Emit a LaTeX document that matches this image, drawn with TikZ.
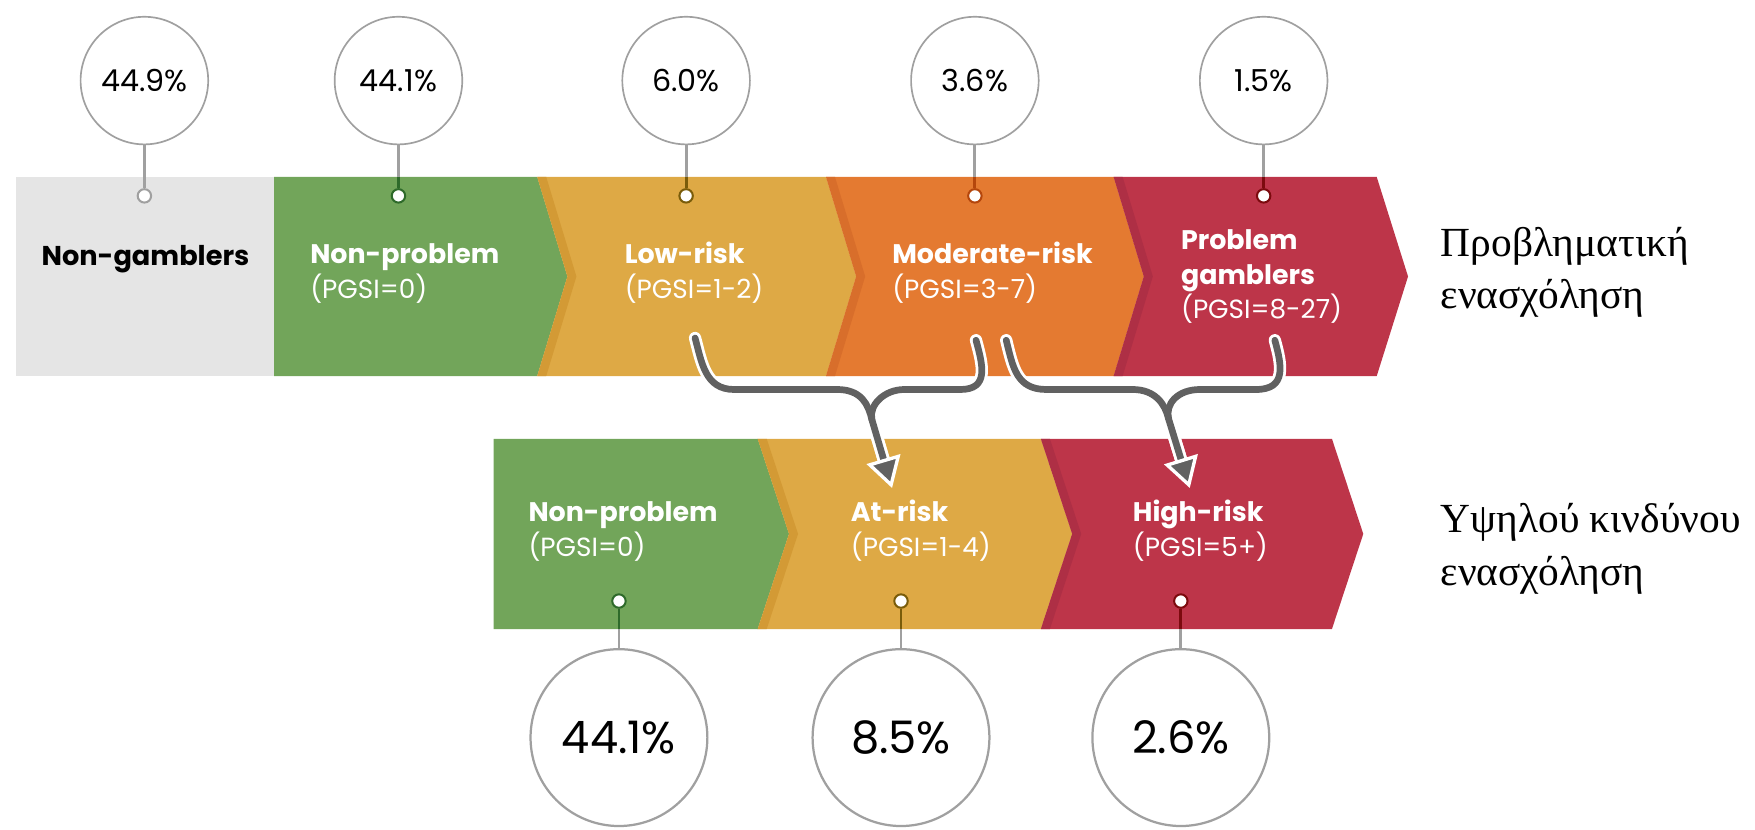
\documentclass[tikz,border=0pt]{standalone}
\usepackage{fontspec}
\setmainfont{Poppins}
\newfontfamily\greekfont{Liberation Serif}
\usetikzlibrary{arrows.meta}
\definecolor{cgray}{HTML}{E5E5E5}
\definecolor{cgreen}{HTML}{72A55A}
\definecolor{cyellow}{HTML}{DEA945}
\definecolor{cyellowd}{HTML}{D39A35}
\definecolor{corange}{HTML}{E47A31}
\definecolor{coranged}{HTML}{D86E2B}
\definecolor{cred}{HTML}{BD3549}
\definecolor{credd}{HTML}{AE2F45}
\definecolor{dgreen}{HTML}{2E6A2A}
\definecolor{dyellow}{HTML}{7A5C0A}
\definecolor{dorange}{HTML}{B4460C}
\definecolor{dred}{HTML}{7C0A0E}
\definecolor{ring}{HTML}{A0A0A0}
\definecolor{arrowgray}{HTML}{616161}
\begin{document}
\begin{tikzpicture}[x=1pt,y=-1pt,
  topring/.style={circle, draw=ring, line width=1.5pt, fill=white, minimum size=114pt, inner sep=0pt, font=\fontsize{27}{30}\selectfont},
  lowring/.style={circle, draw=ring, line width=2pt, fill=white, minimum size=158pt, inner sep=0pt, font=\fontsize{40}{44}\selectfont},
  pin/.style={circle, fill=white, line width=1.8pt, minimum size=12pt, inner sep=0pt},
  stem/.style={line width=2.5pt},
  title/.style={anchor=base west, inner sep=0pt, text=white, font=\bfseries\fontsize{24}{28}\selectfont},
  sub/.style={anchor=base west, inner sep=0pt, text=white, font=\fontsize{23.5}{28}\selectfont},
  greek/.style={anchor=base west, inner sep=0pt, font=\greekfont\fontsize{37}{40}\selectfont},
  flowunder/.style={white, line width=11pt, line cap=round, line join=round},
  flowline/.style={arrowgray, line width=6pt, line cap=round, line join=round},
  flowtip/.style={-{Triangle[length=27pt,width=31pt,fill=arrowgray,color=white,line width=3pt]}}
]
\useasboundingbox (0,0) rectangle (1568,741);

% ---------- top band ----------
\fill[cgray] (14,158) rectangle (245,336);
\fill[cgreen] (245,158) -- (480,158) -- (507,247) -- (480,336) -- (245,336) -- cycle;
\fill[cyellow] (480,158) -- (738,158) -- (765,247) -- (738,336) -- (480,336) -- (507,247) -- cycle;
\fill[cyellowd] (480,158) -- (488,158) -- (515,247) -- (488,336) -- (480,336) -- (507,247) -- cycle;
\fill[corange] (738,158) -- (995,158) -- (1022,247) -- (995,336) -- (738,336) -- (765,247) -- cycle;
\fill[coranged] (738,158) -- (746,158) -- (773,247) -- (746,336) -- (738,336) -- (765,247) -- cycle;
\fill[cred] (995,158) -- (1230,158) -- (1258,247) -- (1230,336) -- (995,336) -- (1022,247) -- cycle;
\fill[credd] (995,158) -- (1003,158) -- (1030,247) -- (1003,336) -- (995,336) -- (1022,247) -- cycle;

% ---------- lower band ----------
\fill[cgreen] (441,392) -- (677,392) -- (705,477) -- (677,562) -- (441,562) -- cycle;
\fill[cyellow] (677,392) -- (930,392) -- (958,477) -- (930,562) -- (677,562) -- (705,477) -- cycle;
\fill[cyellowd] (677,392) -- (685,392) -- (713,477) -- (685,562) -- (677,562) -- (705,477) -- cycle;
\fill[cred] (930,392) -- (1190,392) -- (1218,477) -- (1190,562) -- (930,562) -- (958,477) -- cycle;
\fill[credd] (930,392) -- (938,392) -- (966,477) -- (938,562) -- (930,562) -- (958,477) -- cycle;

% ---------- top percentage rings ----------
\node[topring] (t1) at (129,72) {44.9\%};
\node[topring] (t2) at (356,72) {44.1\%};
\node[topring] (t3) at (613,72) {6.0\%};
\node[topring] (t4) at (871,72) {3.6\%};
\node[topring] (t5) at (1129,72) {1.5\%};
\coordinate (e1) at (129,158);
\coordinate (e2) at (356,158);
\coordinate (e3) at (613,158);
\coordinate (e4) at (871,158);
\coordinate (e5) at (1129,158);
\node[pin, draw=ring] (p1) at (129,175) {};
\node[pin, draw=dgreen] (p2) at (356,175) {};
\node[pin, draw=dyellow] (p3) at (613,175) {};
\node[pin, draw=dorange] (p4) at (871,175) {};
\node[pin, draw=dred] (p5) at (1129,175) {};
\draw[stem, ring] (t1) -- (p1);
\draw[stem, ring] (t2) -- (e2);
\draw[stem, ring] (t3) -- (e3);
\draw[stem, ring] (t4) -- (e4);
\draw[stem, ring] (t5) -- (e5);
\draw[stem, dgreen] (e2) -- (p2);
\draw[stem, dyellow] (e3) -- (p3);
\draw[stem, dorange] (e4) -- (p4);
\draw[stem, dred] (e5) -- (p5);

% ---------- lower percentage rings ----------
\node[lowring] (r1) at (553,659) {44.1\%};
\node[lowring] (r2) at (805,659) {8.5\%};
\node[lowring] (r3) at (1055,659) {2.6\%};
\coordinate (f1) at (553,562);
\coordinate (f2) at (805,562);
\coordinate (f3) at (1055,562);
\node[pin, draw=dgreen] (q1) at (553,537) {};
\node[pin, draw=dyellow] (q2) at (805,537) {};
\node[pin, draw=dred] (q3) at (1055,537) {};
\draw[stem, ring] (r1) -- (f1);
\draw[stem, ring] (r2) -- (f2);
\draw[stem, ring] (r3) -- (f3);
\draw[stem, dgreen] (f1) -- (q1);
\draw[stem, dyellow] (f2) -- (q2);
\draw[stem, dred] (f3) -- (q3);

% ---------- labels ----------
\node[anchor=base west, inner sep=0pt, font=\bfseries\fontsize{24.3}{28}\selectfont] (ng) at (37,237) {Non-gamblers};
\node[title] (np1) at (277,235) {Non-problem};
\node[sub] (np1s) at (277,267) {(PGSI=0)};
\node[title] (lr) at (558,235) {Low-risk};
\node[sub] (lrs) at (558,267) {(PGSI=1-2)};
\node[title] (mr) at (797,235) {Moderate-risk};
\node[sub] (mrs) at (797,267) {(PGSI=3-7)};
\node[title] (pg) at (1055,223) {Problem};
\node[title] (pg2) at (1055,254) {gamblers};
\node[sub] (pgs) at (1055,285) {(PGSI=8-27)};
\node[title] (np2) at (472,466) {Non-problem};
\node[sub] (np2s) at (472,497) {(PGSI=0)};
\node[title] (ar) at (760,466) {At-risk};
\node[sub] (ars) at (760,497) {(PGSI=1-4)};
\node[title] (hr) at (1012,466) {High-risk};
\node[sub] (hrs) at (1012,497) {(PGSI=5+)};

\node[greek] (g1) at (1287,229) {Προβληματική};
\node[greek] (g2) at (1287,276) {ενασχόληση};
\node[greek] (g3) at (1287,476) {Υψηλού κινδύνου};
\node[greek] (g4) at (1287,523) {ενασχόληση};

% ---------- flow arrows ----------
\coordinate (aA) at (621,302);
\coordinate (aB) at (872,304);
\coordinate (aC) at (899,304);
\coordinate (aD) at (1139,304);
\coordinate (mA) at (779,375);
\coordinate (mC) at (1044,374);
\coordinate (tA) at (797,436);
\coordinate (tC) at (1063,436);

\draw[flowunder, shorten >=16pt] (aA) .. controls (627,324) and (630,348) .. (656,348) -- (748,348) .. controls (770,348) and (776,362) .. (mA) -- (tA);
\draw[flowunder, shorten >=16pt] (aB) .. controls (878,326) and (884,348) .. (858,348) -- (808,348) .. controls (790,348) and (776,362) .. (mA) -- (tA);
\draw[flowunder, shorten >=16pt] (aC) .. controls (905,328) and (908,348) .. (935,348) -- (1012,348) .. controls (1032,348) and (1041,361) .. (mC) -- (tC);
\draw[flowunder, shorten >=16pt] (aD) .. controls (1145,326) and (1150,348) .. (1122,348) -- (1072,348) .. controls (1052,348) and (1041,361) .. (mC) -- (tC);

\draw[flowline] (aB) .. controls (878,326) and (884,348) .. (858,348) -- (808,348) .. controls (790,348) and (776,362) .. (mA);
\draw[flowline] (aD) .. controls (1145,326) and (1150,348) .. (1122,348) -- (1072,348) .. controls (1052,348) and (1041,361) .. (mC);
\draw[flowline, flowtip] (aA) .. controls (627,324) and (630,348) .. (656,348) -- (748,348) .. controls (770,348) and (776,362) .. (mA) -- (tA);
\draw[flowline, flowtip] (aC) .. controls (905,328) and (908,348) .. (935,348) -- (1012,348) .. controls (1032,348) and (1041,361) .. (mC) -- (tC);
\end{tikzpicture}
\end{document}
